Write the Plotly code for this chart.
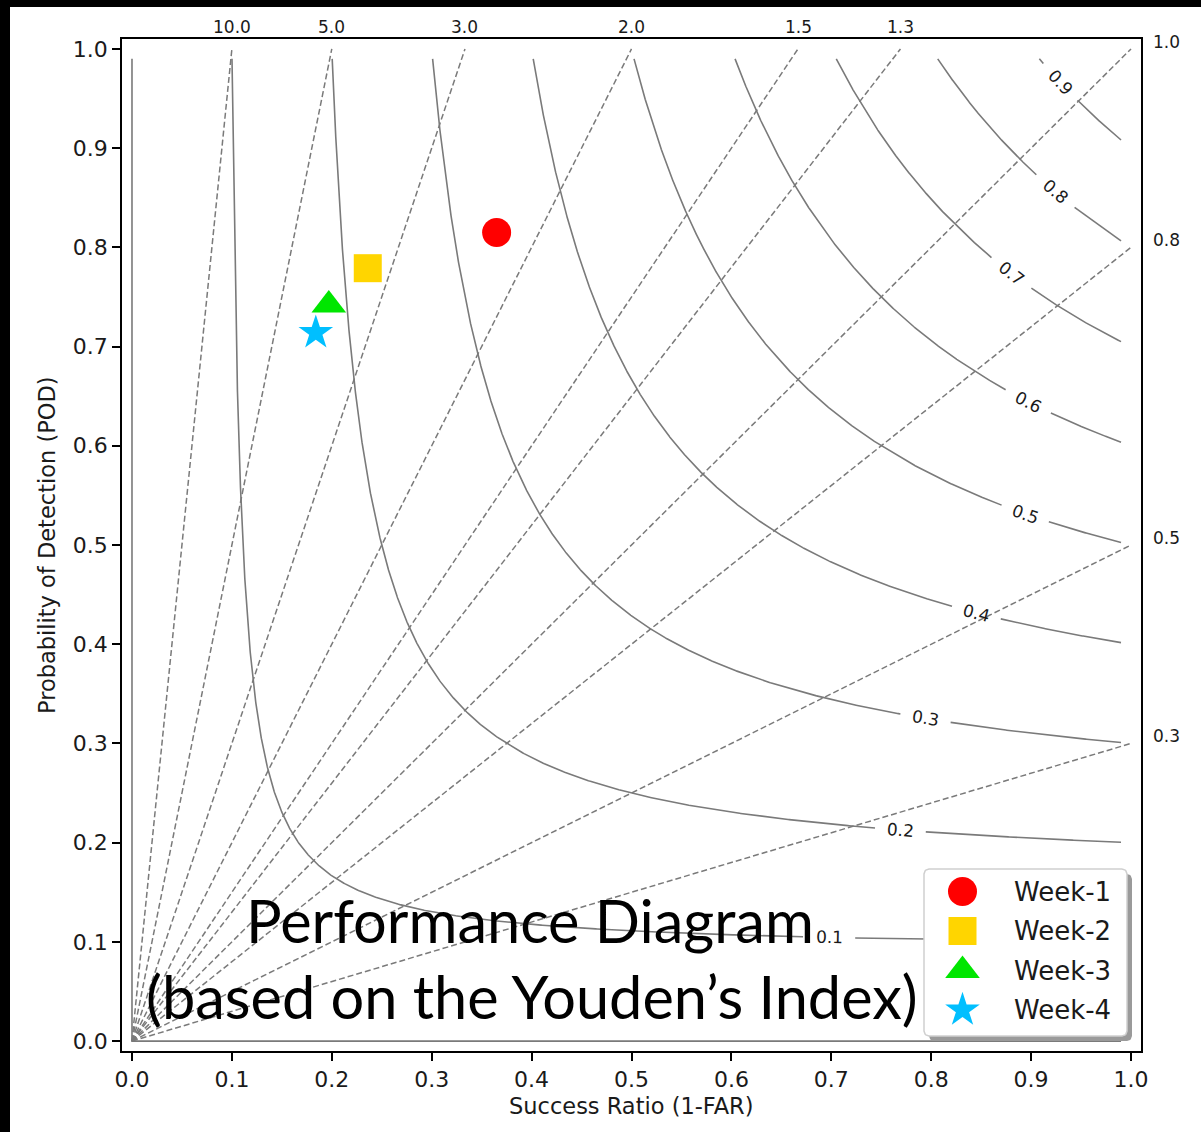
import numpy as np
import plotly.graph_objects as go

# ---------------- data ----------------
week_names = ["Week-1", "Week-2", "Week-3", "Week-4"]
week_success_ratio = [0.365, 0.236, 0.197, 0.184]
week_pod = [0.815, 0.779, 0.742, 0.714]
week_symbols = ["circle", "square", "triangle-up", "star"]
week_colors = ["#ff0000", "#ffd500", "#00e600", "#00bfff"]
week_sizes = [29, 28, 30, 26]

csi_levels = [0.1, 0.2, 0.3, 0.4, 0.5, 0.6, 0.7, 0.8, 0.9]
csi_label_text = ["0.1", "0.2", "0.3", "0.4", "0.5", "0.6", "0.7", "0.8", "0.9"]
csi_label_sr = [0.698, 0.769, 0.794, 0.845, 0.894, 0.897, 0.880, 0.924, 0.929]

bias_levels = [0.3, 0.5, 0.8, 1.0, 1.3, 1.5, 2.0, 3.0, 5.0, 10.0]
bias_label_text = ["0.3", "0.5", "0.8", "1.0", "1.3", "1.5", "2.0", "3.0", "5.0", "10.0"]

tick_vals = [0.0, 0.1, 0.2, 0.3, 0.4, 0.5, 0.6, 0.7, 0.8, 0.9, 1.0]
tick_text = ["0.0", "0.1", "0.2", "0.3", "0.4", "0.5", "0.6", "0.7", "0.8", "0.9", "1.0"]

# ---------------- layout constants ----------------
W, H = 1201, 1132
L, R, T, B = 122, 60, 39, 81
PW, PH = W - L - R, H - T - B
XR = [-0.01, 1.01]
YR = [-0.01, 1.01]
SX = PW / (XR[1] - XR[0])
SY = PH / (YR[1] - YR[0])
GRID_MAX = 0.99
LINE_GRAY = "#7a7a7a"
FONT = "DejaVu Sans"
TXT = "#1a1a1a"


def paper_x(px):
    return (px - L) / PW


def paper_y(py):
    return (H - B - py) / PH


def dpx(x):
    return (x - XR[0]) / (XR[1] - XR[0])


def dpy(y):
    return (y - YR[0]) / (YR[1] - YR[0])


fig = go.Figure()

# CSI = 0 boundary line
fig.add_trace(go.Scatter(x=[0, 0, GRID_MAX], y=[GRID_MAX, 0, 0], mode="lines",
                         line=dict(color=LINE_GRAY, width=1.6), hoverinfo="skip",
                         showlegend=False))

annotations = []

# CSI curves
for c, lab, srl in zip(csi_levels, csi_label_text, csi_label_sr):
    a = 1.0 / c + 1.0
    s0 = 1.0 / (a - 1.0 / GRID_MAX)
    sr_a = np.linspace(s0, GRID_MAX, 700)
    p_b = np.linspace(s0, GRID_MAX, 700)
    sr_b = 1.0 / (a - 1.0 / p_b)
    sr = np.unique(np.concatenate([sr_a, sr_b]))
    p = 1.0 / (a - 1.0 / sr)
    pl = 1.0 / (a - 1.0 / srl)
    d = np.hypot((sr - srl) * SX, (p - pl) * SY)
    xs = [None if dd < 25 else float(v) for v, dd in zip(sr, d)]
    ys = [None if dd < 25 else float(v) for v, dd in zip(p, d)]
    fig.add_trace(go.Scatter(x=xs, y=ys, mode="lines", connectgaps=False,
                             line=dict(color=LINE_GRAY, width=1.6),
                             hoverinfo="skip", showlegend=False))
    slope = pl ** 2 / srl ** 2
    ang = np.degrees(np.arctan2(slope * SY, SX))
    annotations.append(dict(x=srl, y=pl, xref="x", yref="y", text=lab, showarrow=False,
                            textangle=float(ang), font=dict(family=FONT, size=17, color=TXT),
                            xanchor="center", yanchor="middle"))

# Bias lines
for b, lab in zip(bias_levels, bias_label_text):
    xe = min(1.0, 1.0 / b)
    ye = min(1.0, b)
    fig.add_trace(go.Scatter(x=[0, xe], y=[0, ye], mode="lines",
                             line=dict(color=LINE_GRAY, width=1.5, dash="6px,3px"),
                             hoverinfo="skip", showlegend=False))
    if b > 1.0:
        annotations.append(dict(x=dpx(1.0 / b), y=dpy(1.022), xref="paper", yref="paper",
                                text=lab, showarrow=False,
                                font=dict(family=FONT, size=17, color=TXT),
                                xanchor="center", yanchor="middle"))
    else:
        annotations.append(dict(x=dpx(1.02), y=dpy(b + 0.007), xref="paper", yref="paper",
                                text=lab, showarrow=False,
                                font=dict(family=FONT, size=17, color=TXT),
                                xanchor="left", yanchor="middle"))

# Data points
for name, sr, pd_, sym, col, sz in zip(week_names, week_success_ratio, week_pod,
                                       week_symbols, week_colors, week_sizes):
    fig.add_trace(go.Scatter(x=[sr], y=[pd_], mode="markers", name=name,
                             marker=dict(symbol=sym, color=col, size=sz, line=dict(width=0)),
                             showlegend=False))


# ---------------- custom legend on a pixel overlay axis ----------------
def rounded_rect(x0, y0, x1, y1, r):
    pts = []
    corners = [(x1 - r, y0 + r, -90, 0), (x1 - r, y1 - r, 0, 90),
               (x0 + r, y1 - r, 90, 180), (x0 + r, y0 + r, 180, 270)]
    for cx, cy, a0, a1 in corners:
        for t in np.linspace(np.radians(a0), np.radians(a1), 8):
            pts.append((cx + r * np.cos(t), cy + r * np.sin(t)))
    pts.append(pts[0])
    return [p[0] for p in pts], [p[1] for p in pts]


LEG = dict(x0=924, y0=869, x1=1127, y1=1036, sh=5)
sx_, sy_ = rounded_rect(LEG["x0"] + LEG["sh"], LEG["y0"] + LEG["sh"],
                        LEG["x1"] + LEG["sh"], LEG["y1"] + LEG["sh"], 5)
fig.add_trace(go.Scatter(x=sx_, y=sy_, xaxis="x2", yaxis="y2", mode="lines", fill="toself",
                         fillcolor="#9a9a9a", line=dict(color="#9a9a9a", width=0),
                         hoverinfo="skip", showlegend=False))
bx_, by_ = rounded_rect(LEG["x0"], LEG["y0"], LEG["x1"], LEG["y1"], 5)
fig.add_trace(go.Scatter(x=bx_, y=by_, xaxis="x2", yaxis="y2", mode="lines", fill="toself",
                         fillcolor="white", line=dict(color="#cfcfcf", width=1.5),
                         hoverinfo="skip", showlegend=False))
leg_rows = [891.5, 931, 970.5, 1010]
leg_marker_x = 962.5
leg_text_x = 1012
for name, sym, col, sz, ry in zip(week_names, week_symbols, week_colors, week_sizes, leg_rows):
    fig.add_trace(go.Scatter(x=[leg_marker_x], y=[ry], xaxis="x2", yaxis="y2", mode="markers",
                             marker=dict(symbol=sym, color=col, size=sz, line=dict(width=0)),
                             hoverinfo="skip", showlegend=False))
    annotations.append(dict(x=paper_x(leg_text_x), y=paper_y(ry), xref="paper", yref="paper",
                            text=name, showarrow=False, xanchor="left", yanchor="middle",
                            font=dict(family=FONT, size=26, color=TXT)))

# axis titles
annotations.append(dict(x=0.5, y=paper_y(1106), xref="paper", yref="paper",
                        text="Success Ratio (1-FAR)", showarrow=False,
                        xanchor="center", yanchor="middle",
                        font=dict(family=FONT, size=22.5, color=TXT)))
annotations.append(dict(x=paper_x(47), y=0.5, xref="paper", yref="paper",
                        text="Probability of Detection (POD)", showarrow=False, textangle=-90,
                        xanchor="center", yanchor="middle",
                        font=dict(family=FONT, size=22.5, color=TXT)))

# big overlay caption
annotations.append(dict(x=paper_x(530), y=paper_y(920), xref="paper", yref="paper",
                        text="Performance Diagram", showarrow=False,
                        xanchor="center", yanchor="middle",
                        font=dict(family="Lato", size=59.5, color="black")))
annotations.append(dict(x=paper_x(532), y=paper_y(996), xref="paper", yref="paper",
                        text="(based on the Youden\u2019s Index)", showarrow=False,
                        xanchor="center", yanchor="middle",
                        font=dict(family="Lato", size=59.5, color="black")))

axis_common = dict(showgrid=False, zeroline=False, showline=True, linecolor="black",
                   linewidth=1.5, mirror=True, ticks="outside", ticklen=8, tickwidth=1.5,
                   tickcolor="black", tickvals=tick_vals, ticktext=tick_text,
                   tickfont=dict(family=FONT, size=22, color=TXT))

fig.update_layout(
    width=W, height=H,
    margin=dict(l=L, r=R, t=T, b=B),
    paper_bgcolor="black",
    plot_bgcolor="white",
    xaxis=dict(range=XR, **axis_common),
    yaxis=dict(range=YR, **axis_common),
    xaxis2=dict(range=[L, L + PW], overlaying="x", visible=False, fixedrange=True),
    yaxis2=dict(range=[H - B, T], overlaying="y", visible=False, fixedrange=True),
    annotations=annotations,
    shapes=[dict(type="rect", xref="paper", yref="paper", layer="below",
                 x0=paper_x(10), x1=paper_x(W + 20), y0=paper_y(H + 20), y1=paper_y(7),
                 fillcolor="white", line=dict(width=0))],
    showlegend=False,
)

fig.write_html("out.html")
